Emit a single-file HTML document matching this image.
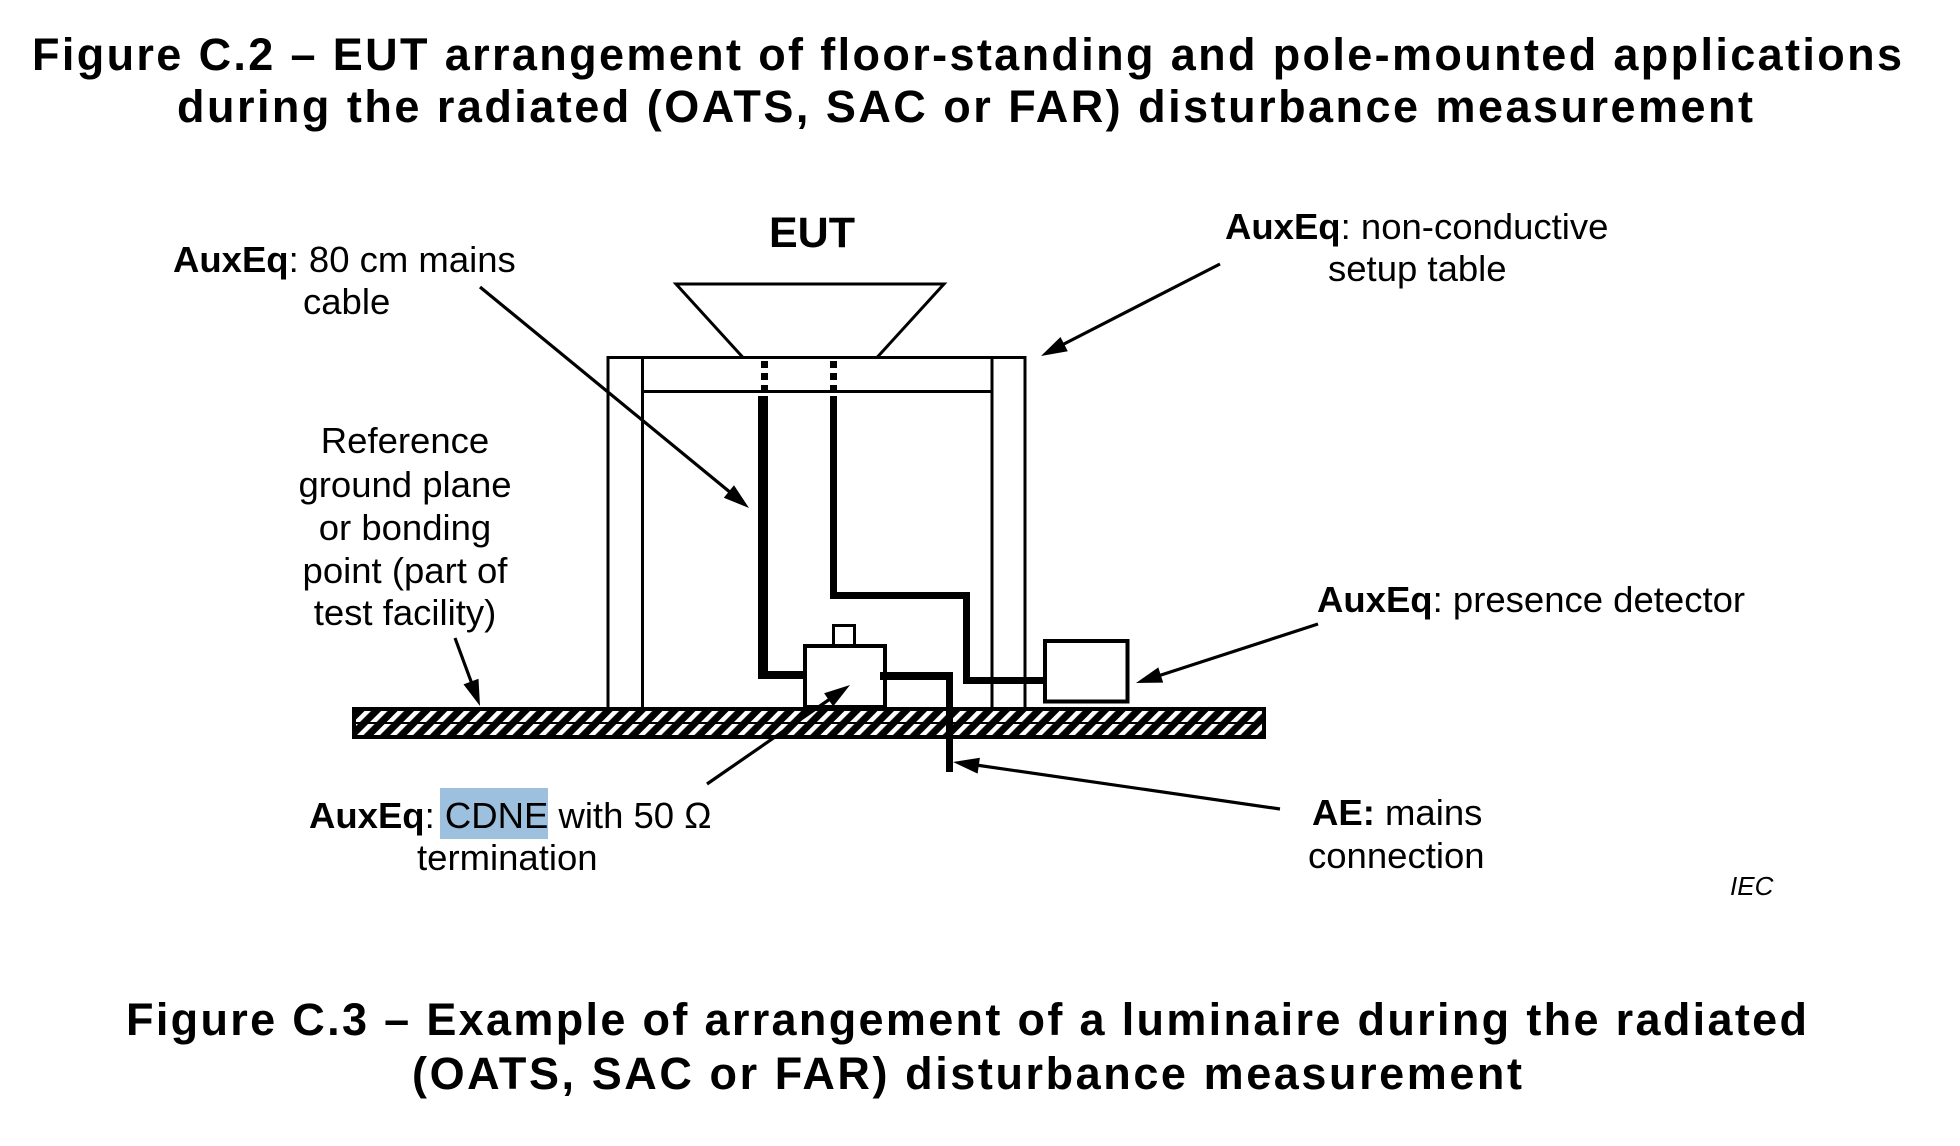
<!DOCTYPE html>
<html>
<head>
<meta charset="utf-8">
<style>
html,body{margin:0;padding:0;background:#fff;}
svg{display:block;}
text{font-family:"Liberation Sans",Arial,sans-serif;fill:#000;}
.b{font-weight:bold;}
.t{font-size:36.5px;}
.h{font-size:45px;font-weight:bold;}
</style>
</head>
<body>
<svg width="1960" height="1146" viewBox="0 0 1960 1146" xmlns="http://www.w3.org/2000/svg">
<defs>
<pattern id="hatch" patternUnits="userSpaceOnUse" width="11.7" height="11.7" patternTransform="rotate(45)">
<rect x="0" y="0" width="11.7" height="11.7" fill="#000"/>
<rect x="0" y="0" width="4.6" height="11.7" fill="#fff"/>
</pattern>
</defs>
<rect x="0" y="0" width="1960" height="1146" fill="#fff"/>

<!-- Titles -->
<text class="h" x="32" y="70" textLength="1870" lengthAdjust="spacing">Figure C.2 – EUT arrangement of floor-standing and pole-mounted applications</text>
<text class="h" x="177" y="122" textLength="1576" lengthAdjust="spacing">during the radiated (OATS, SAC or FAR) disturbance measurement</text>

<text class="h" x="126" y="1035" textLength="1681" lengthAdjust="spacing">Figure C.3 – Example of arrangement of a luminaire during the radiated</text>
<text class="h" x="412" y="1089" textLength="1110" lengthAdjust="spacing">(OATS, SAC or FAR) disturbance measurement</text>

<!-- Ground plane -->
<rect x="354" y="709" width="910" height="28" fill="url(#hatch)" stroke="#000" stroke-width="4"/>
<line x1="354" y1="723" x2="1264" y2="723" stroke="#000" stroke-width="2"/>

<!-- EUT trapezoid -->
<polygon points="676,284 944,284 877,357.5 743,357.5" fill="#fff" stroke="#000" stroke-width="3"/>

<!-- Table -->
<g stroke="#000" stroke-width="3" fill="none">
<line x1="606.5" y1="357.5" x2="1026.5" y2="357.5"/>
<line x1="608" y1="357.5" x2="608" y2="707"/>
<line x1="642.5" y1="357.5" x2="642.5" y2="707"/>
<line x1="992" y1="357.5" x2="992" y2="707"/>
<line x1="1025" y1="357.5" x2="1025" y2="707"/>
<line x1="642.5" y1="391.5" x2="992" y2="391.5"/>
</g>

<!-- dashed cable sections through table top -->
<line x1="764.5" y1="361" x2="764.5" y2="396" stroke="#000" stroke-width="7" stroke-dasharray="7,5"/>
<line x1="833.5" y1="361" x2="833.5" y2="396" stroke="#000" stroke-width="7" stroke-dasharray="7,5"/>

<!-- Left thick cable -->
<rect x="758" y="396" width="10" height="283" fill="#000"/>
<rect x="758" y="671" width="50" height="8" fill="#000"/>

<!-- Right cable -->
<polyline points="833.5,396 833.5,595.5 966.5,595.5 966.5,680.5 1044,680.5" fill="none" stroke="#000" stroke-width="7" stroke-linejoin="miter"/>

<!-- CDNE -->
<rect x="805" y="646" width="80" height="61" fill="#fff" stroke="#000" stroke-width="4"/>
<rect x="833.5" y="625.5" width="21" height="20" fill="#fff" stroke="#000" stroke-width="3"/>
<rect x="880" y="672" width="73" height="8" fill="#000"/>
<rect x="946" y="672" width="7" height="100" fill="#000"/>

<!-- Presence detector -->
<rect x="1045" y="641" width="82.5" height="60.5" fill="#fff" stroke="#000" stroke-width="4"/>

<!-- Arrows -->
<g stroke="#000" stroke-width="3.2" fill="none" stroke-linecap="butt">
<line x1="480" y1="287" x2="731" y2="493"/>
<line x1="1220" y1="264" x2="1062" y2="345"/>
<line x1="455" y1="638" x2="472" y2="684"/>
<line x1="707" y1="784" x2="830" y2="699"/>
<line x1="1318" y1="624" x2="1158" y2="676"/>
<line x1="1280" y1="809" x2="976" y2="765"/>
</g>
<g fill="#000">
<polygon points="749,508 723.8,497.7 734.0,485.3"/>
<polygon points="1041,356 1060.5,337.0 1067.8,351.2"/>
<polygon points="480,706 463.5,684.4 478.5,678.8"/>
<polygon points="850,685 833.2,706.4 824.1,693.2"/>
<polygon points="1136,683 1158.3,667.4 1163.2,682.6"/>
<polygon points="953,762 979.9,757.8 977.6,773.6"/>
</g>

<!-- Labels -->
<text class="b" x="769" y="247" style="font-size:43px">EUT</text>

<text class="t" x="173" y="272"><tspan class="b">AuxEq</tspan>: 80 cm mains</text>
<text class="t" x="303" y="314">cable</text>

<text class="t" x="1225" y="239"><tspan class="b">AuxEq</tspan>: non-conductive</text>
<text class="t" x="1328" y="281">setup table</text>

<g class="t" text-anchor="middle">
<text class="t" x="405" y="453" text-anchor="middle">Reference</text>
<text class="t" x="405" y="497" text-anchor="middle">ground plane</text>
<text class="t" x="405" y="540" text-anchor="middle">or bonding</text>
<text class="t" x="405" y="583" text-anchor="middle">point (part of</text>
<text class="t" x="405" y="625" text-anchor="middle">test facility)</text>
</g>

<text class="t" x="1317" y="612"><tspan class="b">AuxEq</tspan>: presence detector</text>

<rect x="440" y="788" width="108" height="51" fill="#9cc0dd"/>
<text class="t" x="309" y="828"><tspan class="b">AuxEq</tspan>: CDNE with 50 Ω</text>
<text class="t" x="417" y="870">termination</text>

<text class="t" x="1312" y="825"><tspan class="b">AE:</tspan> mains</text>
<text class="t" x="1308" y="868">connection</text>

<text x="1730" y="895" style="font-size:26px;font-style:italic">IEC</text>
</svg>
</body>
</html>
